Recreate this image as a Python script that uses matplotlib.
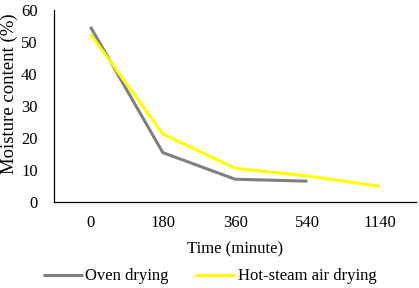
import matplotlib.pyplot as plt

plt.rcParams['font.family'] = ['Liberation Serif', 'DejaVu Serif']

# Time points (categorical axis)
times = ['0', '180', '360', '540', '1140']
oven = [54.6, 15.4, 7.1, 6.5]
steam = [52.3, 21.2, 10.5, 8.1, 4.9]

f = plt.figure(figsize=(4.19, 2.88), dpi=100)
ax = f.add_axes([0.1296, 0.2986, 0.8632, 0.6684])

ax.plot(range(len(oven)), oven, color='#808080', lw=2.2, label='Oven drying', solid_capstyle='butt')
ax.plot(range(len(steam)), steam, color='#FFFF00', lw=2.2, label='Hot-steam air drying', solid_capstyle='butt')

ax.set_xlim(-0.5, 4.5)
ax.set_ylim(0, 60)
ax.set_xticks(range(len(times)))
ax.set_xticklabels(times)
ax.set_yticks(range(0, 61, 10))
ax.tick_params(length=0, labelsize=12)
ax.tick_params(axis='x', pad=9)
ax.tick_params(axis='y', pad=12)
for s in ['top', 'right']:
    ax.spines[s].set_visible(False)
ax.spines['left'].set_linewidth(0.9)
ax.spines['bottom'].set_linewidth(0.9)

ax.set_xlabel('Time (minute)', fontsize=12, labelpad=8)
ax.set_ylabel('Moisture content (%)', fontsize=13.5)
ax.yaxis.set_label_coords(-0.1, 0.565)

f.legend(loc='center', bbox_to_anchor=(0.5, 0.04), ncol=2, frameon=False,
         fontsize=12, handlelength=2.4, handletextpad=0.15, columnspacing=1.6)

f.savefig('out.png', dpi=100)
